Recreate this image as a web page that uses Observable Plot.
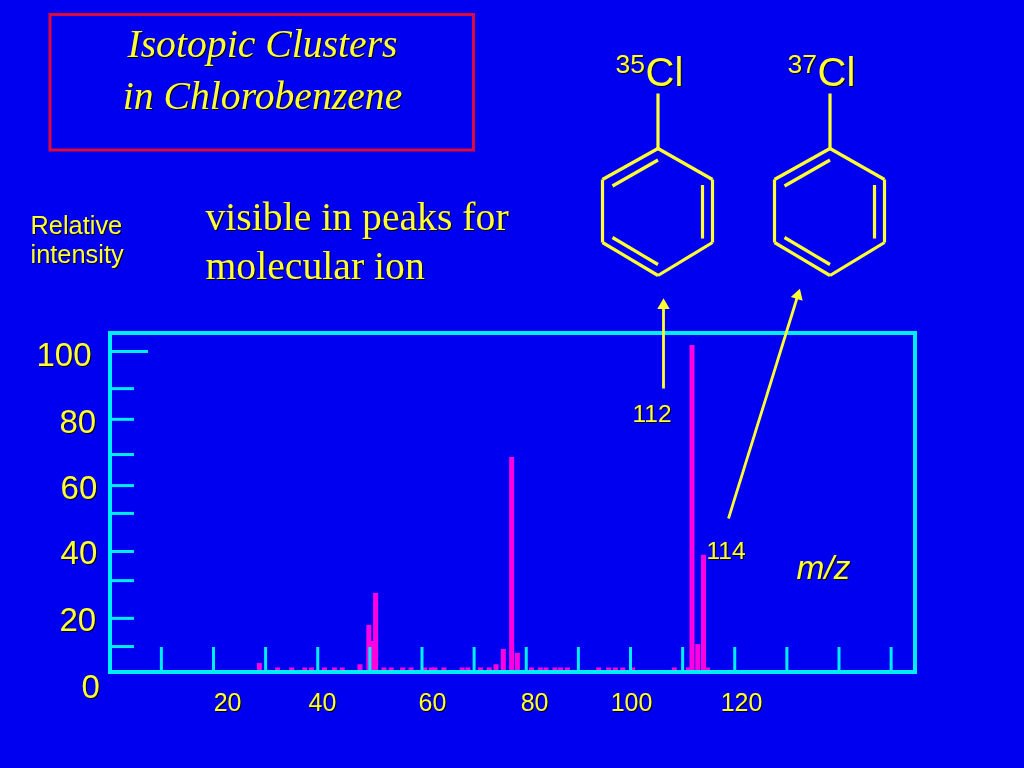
<!DOCTYPE html>
<html><head><meta charset="utf-8">
<script src="https://cdn.jsdelivr.net/npm/d3@7"></script>
<script src="https://cdn.jsdelivr.net/npm/@observablehq/plot@0.6"></script>
<style>
html,body{margin:0;padding:0;background:#0000f0;overflow:hidden}
svg{display:block}
svg g[aria-label="text"]{filter:drop-shadow(1.5px 1.5px 0.6px #000020)}
</style></head><body>
<script>
// Spectrum (m/z, relative intensity)
const peakMz = [28.8,32.3,35.0,37.5,38.8,41.3,43.2,44.7,48.1,49.8,50.4,51.1,52.7,54.1,56.3,57.9,60.5,61.8,62.5,64.2,67.7,68.8,71.2,72.9,74.2,75.6,77.2,78.3,81.0,82.7,83.8,85.5,86.6,87.9,93.9,95.8,97.1,98.5,100.4,108.4,111.1,111.8,112.9,114.0,114.8];
const peakI  = [2.5,1.1,1.1,1.1,1.1,1.1,1.1,1.1,2.1,14.4,9.4,24.4,1.1,1.1,1.1,1.1,1.1,1.1,1.1,1.1,1.1,1.1,1.1,1.1,2.1,6.9,66.9,5.7,1.1,1.1,1.1,1.1,1.1,1.1,1.1,1.1,1.1,1.1,1.1,1.1,1.1,101.9,8.4,36.3,1.1];
// Axis ticks as drawn
const xTicks = [10,20,30,40,50,60,70,80,90,100,110,120,130,140,150];
const yTicksLong = [100];
const yTicksShort = [88.4,78.8,67.8,58.1,49.4,37.5,28.4,16.6,7.8];
const xLabels = ["20","40","60","80","100","120"];
const xLabelAt = [22.7,40.9,62,81.6,100.2,121.3];
const yLabels = ["100","80","60","40","20","0"];
const yLabelAt = [98.7,77.8,57.2,36.9,16,-5];
const yLabelRight = [-3.4,-2.5,-2.3,-2.3,-2.5,-1.8];

// Page-wide scales: chart units over the whole slide
const W=1024,H=768;
const pxPerMz=5.2125, x20=213, y0=671, pxPerI=3.2;
const mz=px=>20+(px-x20)/pxPerMz, iy=py=>(y0-py)/pxPerI;
const pt=(a,b)=>({x:mz(a),y:iy(b)});
const seg=(a,b,c,d)=>({x1:mz(a),y1:iy(b),x2:mz(c),y2:iy(d)});

// Chlorobenzene drawing, one per isotope
const benzene=(o)=>[
 seg(657.5+o,93,657.5+o,148),
 seg(657.5+o,148,602+o,179),seg(602+o,179,602+o,242),seg(602+o,242,657.5+o,275),
 seg(657.5+o,275,712+o,242),seg(712+o,242,712+o,179),seg(712+o,179,657.5+o,148),
 seg(612+o,185.5,657.5+o,159.5),seg(702+o,184.5,702+o,238),seg(612+o,237,657.5+o,264)
];
const bonds=[...benzene(0),...benzene(172)];
const arrows=[seg(663,388,663,305),seg(728,518,797.3,295)];
const heads=[{...pt(663,305),a:0},{...pt(797.3,295),a:17}];

const Y="#ffff33", C="#00ecff", SANS="Liberation Sans, Arial, sans-serif", SERIF="Liberation Serif, Times New Roman, serif";
const label=(t,a,b,size,opt={})=>Plot.text([pt(a,b)],{x:"x",y:"y",text:()=>t,fill:Y,fontSize:size,fontFamily:SANS,textAnchor:"start",lineAnchor:"bottom",...opt});

const chart=Plot.plot({
 width:W,height:H,margin:0,
 style:{background:"#0000f0"},
 x:{domain:[mz(0),mz(W)],range:[0,W],axis:null},
 y:{domain:[iy(H),iy(0)],range:[H,0],axis:null},
 marks:[
  Plot.ruleX(peakMz.map((m,i)=>({m,v:peakI[i]})),{x:"m",y1:0,y2:"v",stroke:"#ff00e0",strokeWidth:5}),
  Plot.rect([seg(110,333,915,672)],{x1:"x1",x2:"x2",y1:"y1",y2:"y2",fill:"none",stroke:C,strokeWidth:4}),
  Plot.ruleX(xTicks,{x:d=>d,y1:iy(671),y2:iy(647),stroke:C,strokeWidth:3}),
  Plot.ruleY(yTicksLong,{y:d=>d,x1:mz(110),x2:mz(148),stroke:C,strokeWidth:3}),
  Plot.ruleY(yTicksShort,{y:d=>d,x1:mz(110),x2:mz(134),stroke:C,strokeWidth:3}),
  Plot.text(xLabels,{x:(d,i)=>xLabelAt[i],y:iy(702),text:d=>d,fill:Y,fontSize:25,fontFamily:SANS}),
  Plot.text(yLabels,{x:(d,i)=>yLabelRight[i],y:(d,i)=>yLabelAt[i],text:d=>d,fill:Y,fontSize:33,fontFamily:SANS,textAnchor:"end"}),
  // title box
  Plot.rect([seg(50,14.5,473.5,150)],{x1:"x1",x2:"x2",y1:"y1",y2:"y2",fill:"none",stroke:"#dc0a3c",strokeWidth:3}),
  label("Isotopic Clusters",262,56,39.7,{fontFamily:SERIF,fontStyle:"italic",textAnchor:"middle"}),
  label("in Chlorobenzene",262,108,39.7,{fontFamily:SERIF,fontStyle:"italic",textAnchor:"middle"}),
  label("visible in peaks for",205,229,39.7,{fontFamily:SERIF}),
  label("molecular ion",205,278,39.7,{fontFamily:SERIF}),
  label("Relative",30,233,25.4),
  label("intensity",30,262,25.4),
  label("m/z",796,578,33.5,{fontStyle:"italic"}),
  label("112",632,421,24.5),
  label("114",706,558,24.5),
  label("35",615,72,26.5),
  label("Cl",645,85,40),
  label("37",787,72,26.5),
  label("Cl",817,85,40),
  Plot.link(bonds,{x1:"x1",y1:"y1",x2:"x2",y2:"y2",stroke:Y,strokeWidth:3.2}),
  Plot.link(arrows,{x1:"x1",y1:"y1",x2:"x2",y2:"y2",stroke:Y,strokeWidth:2.8}),
  Plot.dot(heads,{x:"x",y:"y",symbol:"triangle",r:4.6,fill:Y,stroke:"none",rotate:"a"})
 ]
});
document.body.appendChild(chart);
</script></body></html>
